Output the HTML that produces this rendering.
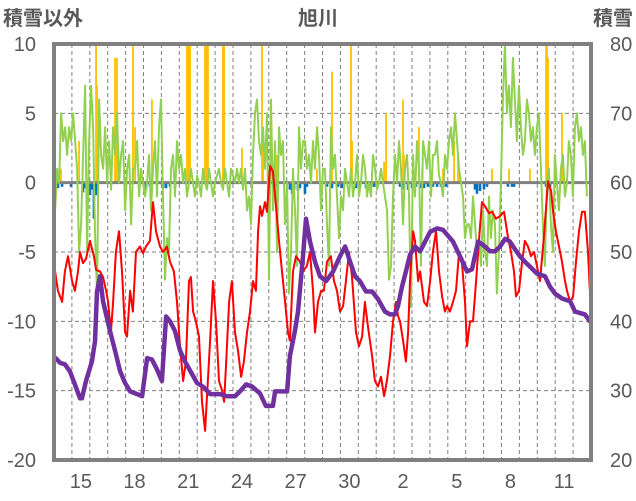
<!DOCTYPE html>
<html><head><meta charset="utf-8"><style>
body{margin:0;background:#fff;}
svg{display:block;font-family:"Liberation Sans","Noto Sans CJK JP",sans-serif;}
text{fill:#595959;}
</style></head><body>
<svg id="chart" width="636" height="501" viewBox="0 0 636 501">
<text x="3" y="25" font-size="20" font-weight="bold">積雪以外</text>
<text x="318" y="25" font-size="20" font-weight="bold" text-anchor="middle">旭川</text>
<text x="633" y="25" font-size="20" font-weight="bold" text-anchor="end">積雪</text>
<g id="grid"></g><g id="bars"></g><g id="lines"></g><g id="axes"></g>
</svg>
<script>
const xDayLabels=["15","18","21","24","27","30","2","5","8","11"];
const xLabelDays=[1.5,4.5,7.5,10.5,13.5,16.5,19.5,22.5,25.5,28.5];
const leftTicks=[10,5,0,-5,-10,-15,-20];
const rightTicks=[80,70,60,50,40,30,20];
const precipDays=[0.39,1.40,2.35,2.40,3.41,3.46,3.52,4.41,4.53,5.47,7.43,7.49,7.54,7.60,8.44,8.49,8.55,8.60,9.44,9.50,10.50,11.62,11.68,12.40,12.46,14.69,15.53,16.59,16.65,18.44,18.55,19.50,19.55,20.39,20.56,21.73,22.35,22.57,22.63,24.47,25.42,26.59,27.49,27.54,27.60,28.38,28.44];
const precipVals=[1,3,10,7,9,5,9,10,4,6,10,10,10,10,10,10,10,10,10,10,2.5,10,3,1,2,1,8,10,3,1.5,5,6,2,4,1,1,3,2,1,1,1,1,10,10,9,5,1];
const negDays=[0.11,0.22,0.45,0.95,1.62,1.73,1.90,2.01,2.12,2.23,2.35,2.40,5.14,5.36,6.09,6.26,6.48,6.76,12.40,13.18,13.30,13.41,13.63,13.74,14.02,14.13,15.25,15.53,15.87,16.09,16.87,17.09,17.43,17.65,17.88,19.33,19.55,19.78,20.00,20.22,20.45,20.67,20.89,21.17,21.40,21.62,21.90,23.52,23.63,23.80,24.02,24.19,25.36,25.59,25.70,27.49,27.71];
const negVals=[-0.4,-0.4,-0.3,-0.3,-0.7,-0.4,-0.7,-0.9,-0.5,-2.6,-0.9,-0.4,-0.5,-0.3,-0.4,-0.4,-0.3,-0.3,-0.3,-0.5,-0.8,-0.5,-0.6,-0.4,-0.8,-0.3,-0.3,-0.4,-0.3,-0.4,-0.4,-0.4,-0.4,-0.3,-0.3,-0.3,-0.5,-0.5,-0.4,-0.3,-0.4,-0.4,-0.3,-0.3,-0.3,-0.3,-0.3,-0.5,-0.8,-0.6,-0.5,-0.3,-0.3,-0.3,-0.3,-0.3,-0.3];
const greenStartDay=0.06, greenStepDay=0.1117;
const greenVals=[-2,1,0,5,3,4,2,4,3,5,3,1,-5,-3,2,7,-5,3,7,4,-4,-8,6,2,1,4,0,3,-0.5,4,2,5,0,2,3,-2,1,2,-3,1,1,3,-1,1,0,-1,0,2,-2,1,3,-1,4,6,-1,-7,-4,-5,1,2,-1,3,1,2,0,1,-1,0,1,0,-1,0.5,0,-1,1,0,-0.5,1,0,-1,0,0.5,1,0,-0.5,1,0,-1,1,0.5,0,1,0,1,-0.5,1,-2,-1,-3,2,5,6,3,2,4,1,5,-7,6,-2,3,-5,4,2,3,-3,0,-8,-5,1,-2,-6,4,1,3,3,1,2,0,3,1,4,2,-2,1,1,-3,-6,4,1,2,-1,-4,-1,-2,1,0,-1,1,-1,0,2,-1,0,2,1,-1,0,-1,2,1,-0.5,0,1,0,-1,-2,-7,-6,-1,2,0,3,1,-3,1,2,-1,-9,2,-1,3,1,-6,3,2,1,3,-1,2,2,3,0.5,0,-1,2,1,3,4,2,5,3,1,0,-1,-4,-3,-3,-4,-1,-3,-5,-4,-6,-2,-5,-6,-1,-4,-2,-3,-8,-5,0,6,10,5,7,4,9,6,3,7,4,2,3,6,5,3,4,2,4,5,1,-3,-6,0,1,-3,-5,2,0,-2,1,2,-1,0,3,2,-1,4,5,3,4,2,3,-1];
const tempDays=[.06,.22,.45,.61,.78,1.01,1.17,1.34,1.45,1.62,1.79,2.01,2.23,2.35,2.57,2.74,2.91,3.02,3.18,3.30,3.46,3.63,3.80,3.97,4.08,4.25,4.41,4.58,4.80,4.97,5.14,5.36,5.53,5.70,5.92,6.09,6.31,6.48,6.70,6.87,7.04,7.21,7.37,7.54,7.65,7.77,7.93,8.10,8.27,8.44,8.55,8.72,8.88,9.05,9.22,9.39,9.50,9.61,9.78,9.94,10.11,10.28,10.45,10.61,10.78,10.95,11.12,11.28,11.40,11.51,11.62,11.79,11.90,12.07,12.23,12.40,12.57,12.74,12.91,13.07,13.18,13.35,13.52,13.74,13.91,14.13,14.30,14.47,14.58,14.75,14.92,15.08,15.25,15.47,15.64,15.81,15.98,16.15,16.31,16.48,16.65,16.87,17.04,17.21,17.37,17.54,17.77,17.93,18.10,18.27,18.44,18.60,18.77,18.94,19.11,19.22,19.33,19.50,19.66,19.78,19.89,20.06,20.17,20.34,20.45,20.67,20.84,21.01,21.17,21.34,21.51,21.68,21.84,21.96,22.12,22.29,22.46,22.63,22.79,22.96,23.07,23.24,23.41,23.58,23.74,23.91,24.08,24.30,24.47,24.69,24.92,25.14,25.36,25.53,25.70,25.81,25.98,26.15,26.31,26.48,26.65,26.82,26.98,27.15,27.37,27.60,27.77,27.88,28.04,28.21,28.38,28.55,28.66,28.83,29.00,29.16,29.33,29.50,29.66,29.83,29.94,30.06];
const tempVals=[-6.4,-7.8,-8.6,-6.4,-5.3,-7.1,-7.8,-6.4,-5.0,-5.8,-5.5,-4.2,-5.3,-6.3,-6.4,-6.8,-7.8,-8.6,-10.8,-8.6,-5.0,-3.5,-6.4,-10.8,-11.1,-7.8,-9.3,-5.0,-4.6,-5.1,-4.6,-4.2,-1.4,-3.5,-4.6,-5.0,-4.6,-5.7,-6.4,-8.6,-11.8,-14.3,-12.9,-7.1,-6.8,-9.3,-10.0,-11.1,-15.8,-17.9,-15.4,-11.4,-7.1,-10.0,-14.3,-15.0,-15.8,-13.2,-8.6,-7.1,-10.8,-12.1,-14.0,-12.9,-10.8,-9.3,-7.1,-7.8,-3.5,-1.7,-2.4,-1.4,-2.1,1.2,0.8,-1.7,-4.2,-6.4,-8.6,-10.8,-11.4,-6.4,-5.3,-5.7,-6.4,-6.0,-5.0,-7.8,-10.8,-8.6,-7.8,-7.8,-5.7,-5.3,-7.1,-7.8,-9.3,-8.9,-7.1,-5.0,-6.8,-10.8,-11.8,-11.1,-8.6,-10.4,-12.5,-14.3,-14.7,-14.0,-15.4,-14.3,-12.5,-10.0,-8.6,-9.6,-10.0,-11.4,-12.9,-10.8,-7.1,-3.5,-4.2,-7.1,-6.4,-8.6,-8.9,-7.1,-5.0,-3.5,-6.4,-8.2,-9.3,-8.9,-9.3,-8.6,-7.8,-5.0,-5.7,-8.6,-11.8,-10.0,-10.0,-7.1,-4.2,-1.4,-1.7,-2.2,-2.1,-2.6,-2.4,-2.1,-3.9,-5.0,-6.4,-8.2,-7.8,-5.7,-4.2,-4.6,-5.3,-5.0,-6.0,-7.1,-3.9,0.1,-0.6,-2.1,-3.5,-4.6,-5.7,-7.1,-7.8,-8.6,-8.2,-5.7,-3.5,-2.1,-2.1,-5.0,-7.8,-8.4];
const snowDays=[0.06,0.34,0.61,0.89,1.17,1.45,1.56,1.79,2.12,2.29,2.40,2.57,2.74,3.13,3.41,3.69,3.97,4.25,4.64,4.92,5.20,5.47,5.75,6.03,6.26,6.48,6.76,7.04,7.32,7.71,7.99,8.32,8.72,8.99,9.27,9.66,10.11,10.39,10.73,11.06,11.51,11.84,12.23,12.35,12.63,13.02,13.18,13.46,13.63,13.91,14.08,14.30,14.58,14.86,15.20,15.59,15.98,16.26,16.54,16.82,17.09,17.43,17.77,18.10,18.49,18.77,19.05,19.22,19.44,19.66,19.89,20.17,20.45,20.73,21.01,21.40,21.73,21.96,22.29,22.68,23.07,23.35,23.69,24.08,24.36,24.64,24.92,25.20,25.47,25.75,26.03,26.31,26.59,26.98,27.43,27.71,27.99,28.38,28.83,29.11,29.66,29.94,30.10];
const snowVals=[34.8,34.0,33.8,32.8,30.9,28.9,28.9,31.4,34.2,37.1,44.3,46.5,42.9,38.6,35.8,32.8,31.1,29.9,29.5,29.2,34.7,34.5,33.1,31.4,40.7,40.0,38.6,35.8,34.2,32.4,31.1,30.6,29.5,29.5,29.5,29.2,29.2,29.9,30.9,30.6,29.6,27.8,27.8,29.9,29.9,29.9,35.0,38.6,41.4,49.4,54.8,51.5,48.6,46.5,45.8,47.2,49.4,50.8,48.6,46.5,45.8,44.3,44.3,43.2,41.4,41.0,41.0,42.2,45.0,47.2,49.6,50.8,50.1,51.5,52.9,53.4,53.2,52.5,51.5,49.4,47.2,47.5,51.5,50.8,50.1,50.1,50.8,51.9,51.5,50.4,49.4,48.6,47.9,46.9,46.5,45.0,44.0,43.3,42.9,41.4,41.0,40.0,39.9];

const NS='http://www.w3.org/2000/svg';
const X0=54,X1=591,Y0=44,Y1=460,DAYS=30;
function xs(d){return X0+d*(X1-X0)/DAYS;}
function yl(v){return Y0+(10-v)*(Y1-Y0)/30;}
function yr(v){return Y0+(80-v)*(Y1-Y0)/60;}
function mk(tag,attrs,parent){const e=document.createElementNS(NS,tag);for(const k in attrs)e.setAttribute(k,attrs[k]);parent.appendChild(e);return e;}
const grid=document.getElementById('grid'),bars=document.getElementById('bars'),lines=document.getElementById('lines'),axes=document.getElementById('axes');
const defs=mk('defs',{},document.getElementById('chart'));
const cp=mk('clipPath',{id:'plotclip'},defs);mk('rect',{x:X0,y:Y0,width:X1-X0,height:Y1-Y0},cp);
bars.setAttribute('clip-path','url(#plotclip)');lines.setAttribute('clip-path','url(#plotclip)');
for(let d=1;d<DAYS;d++){const l=mk('line',{x1:xs(d),x2:xs(d),y1:Y0,y2:Y1,stroke:'#7f7f7f','stroke-width':1,'stroke-dasharray':'4,3'},grid);

}
leftTicks.forEach(v=>{if(v!==0&&v!==10&&v!==-20){const l=mk('line',{x1:X0,x2:X1,y1:yl(v),y2:yl(v),stroke:'#7f7f7f','stroke-width':1,'stroke-dasharray':'4,3'},grid);

}});
precipDays.forEach((d,i)=>{const r=mk('rect',{x:xs(d)-0.9,y:yl(precipVals[i]),width:1.8,height:yl(0)-yl(precipVals[i]),fill:'#ffc000'},bars);

});
negDays.forEach((d,i)=>{const r=mk('rect',{x:xs(d)-1.3,y:yl(0),width:2.6,height:yl(negVals[i])-yl(0),fill:'#0070c0'},bars);

});
const z=mk('line',{x1:X0,x2:X1,y1:yl(0),y2:yl(0),stroke:'#7f7f7f','stroke-width':3},lines);


function poly(pts,color,w,name){const p=mk('polyline',{points:pts.map(q=>q[0].toFixed(1)+','+q[1].toFixed(1)).join(' '),fill:'none',stroke:color,'stroke-width':w,'stroke-linejoin':'round'},lines);

}
poly(greenVals.map((v,i)=>[xs(greenStartDay+i*greenStepDay),yl(v)]),'#92d050',2,'green-series-line');
poly(tempDays.map((d,i)=>[xs(d),yl(tempVals[i])]),'#ff0000',2,'temperature-line');
poly(snowDays.map((d,i)=>[xs(d),yr(snowVals[i])]),'#7030a0',4.5,'snow-depth-line');
const fr=mk('rect',{x:X0,y:Y0,width:X1-X0,height:Y1-Y0,fill:'none',stroke:'#808080','stroke-width':4},axes);


leftTicks.forEach(v=>{const t=mk('text',{x:36,y:yl(v)+7,'font-size':20,'text-anchor':'end'},axes);t.textContent=v;

});
rightTicks.forEach(v=>{const t=mk('text',{x:610,y:yr(v)+7,'font-size':20},axes);t.textContent=v;

});
xDayLabels.forEach((s,i)=>{const t=mk('text',{x:xs(xLabelDays[i]),y:488,'font-size':20,'text-anchor':'middle'},axes);t.textContent=s;

});
</script>
</body></html>
